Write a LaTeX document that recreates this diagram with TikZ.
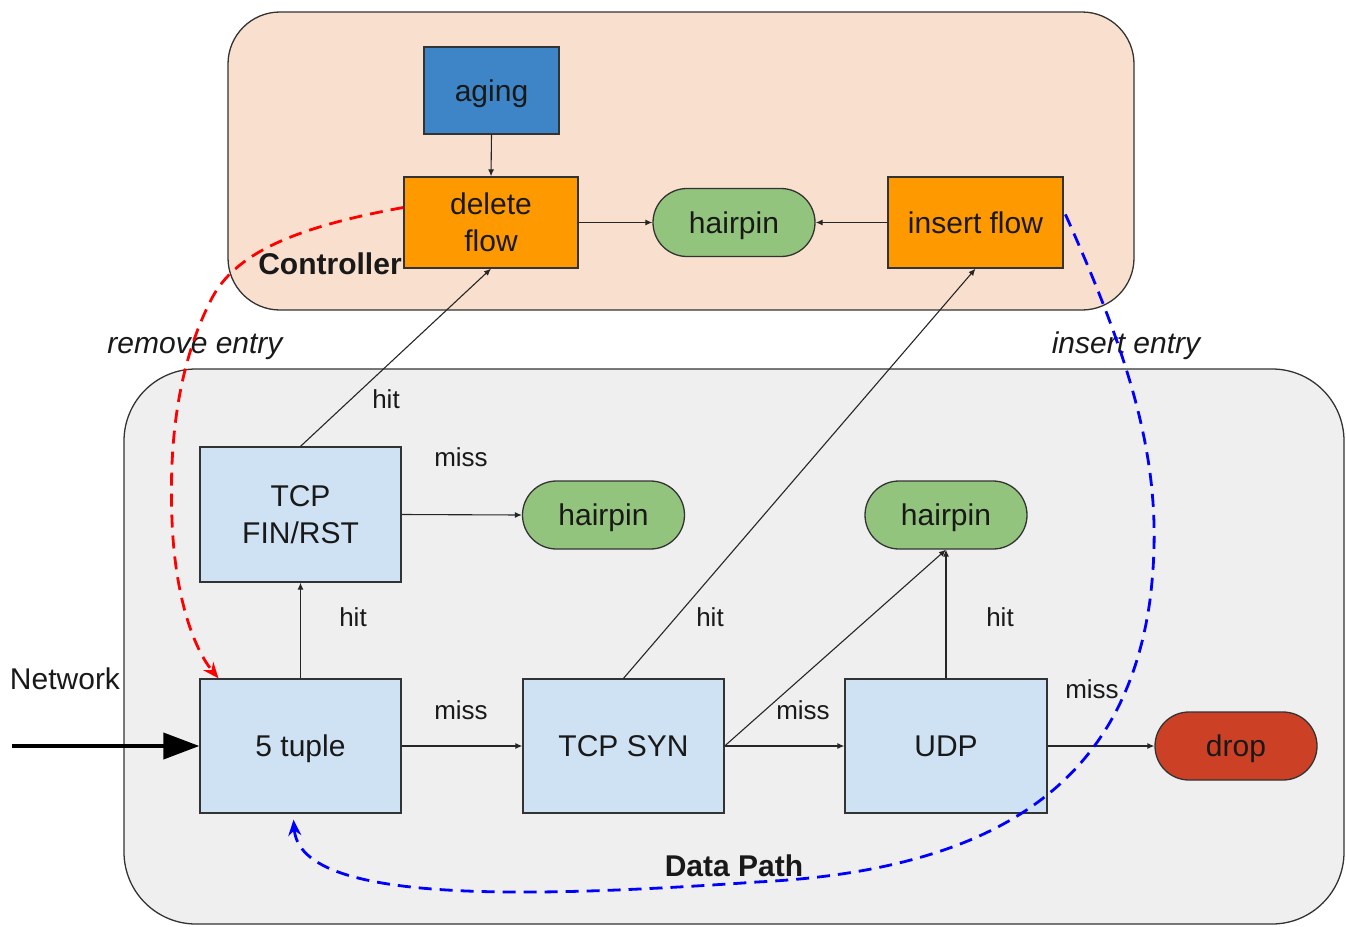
\documentclass[tikz,border=0pt]{standalone}
\usepackage{fontspec}
\setmainfont{Liberation Sans}
\usetikzlibrary{arrows.meta}
\definecolor{ctrlfill}{HTML}{F9E0CE}
\definecolor{dpfill}{HTML}{EFEFEF}
\definecolor{lblue}{HTML}{CFE2F3}
\definecolor{dblue}{HTML}{3D85C6}
\definecolor{orng}{HTML}{FF9900}
\definecolor{grn}{HTML}{93C47D}
\definecolor{redd}{HTML}{CC4125}
\definecolor{edge}{HTML}{333333}
\begin{document}
\begin{tikzpicture}[x=1pt,y=-1pt,
  region/.style={draw=edge,line width=1.3pt},
  bx/.style={draw=edge,line width=1.3pt,inner sep=0pt,align=center,font=\fontsize{30}{37}\selectfont,text=black!90},
  one/.style={text height=21.5pt,text depth=0pt},
  pill/.style={bx,one,rounded corners=34pt,fill=grn,minimum width=162pt,minimum height=68pt},
  conn/.style={line width=1.1pt,draw=black!85,-{Latex[length=7pt,width=6pt]}},
  lbl/.style={font=\fontsize{26}{30}\selectfont,text=black!90,text height=18.6pt,text depth=0pt},
  big/.style={font=\fontsize{30}{34}\selectfont,text=black!90,one},
  dashcurve/.style={line width=2.8pt,dash pattern=on 13pt off 8pt}
]
\useasboundingbox (0,0) rectangle (1346,926);
% regions
\draw[region,fill=ctrlfill,rounded corners=52pt] (228,12) rectangle (1134,310);
\draw[region,fill=dpfill,rounded corners=72pt] (124,369) rectangle (1344,924);
% controller nodes
\node[bx,one,fill=dblue,minimum width=135pt,minimum height=87pt] (aging) at (491.5,90.5) {aging};
\node[bx,fill=orng,minimum width=174pt,minimum height=91pt] (delete) at (491,222.5) {delete\\flow};
\node[pill] (hp1) at (734,222.5) {hairpin};
\node[bx,one,fill=orng,minimum width=175pt,minimum height=91pt] (insert) at (975.5,222.5) {insert flow};
\node[font=\bfseries\fontsize{30}{34}\selectfont,text=black!90,one] (ctl) at (330,264) {Controller};
% data path nodes
\node[bx,fill=lblue,minimum width=201pt,minimum height=135pt] (fin) at (300.5,514.5) {TCP\\FIN/RST};
\node[pill] (hp2) at (603.5,515) {hairpin};
\node[pill] (hp3) at (946,515) {hairpin};
\node[bx,one,fill=lblue,minimum width=201pt,minimum height=134pt] (tuple) at (300.5,746) {5 tuple};
\node[bx,one,fill=lblue,minimum width=201pt,minimum height=134pt] (syn) at (623.5,746) {TCP SYN};
\node[bx,one,fill=lblue,minimum width=202pt,minimum height=134pt] (udp) at (946,746) {UDP};
\node[bx,one,fill=redd,rounded corners=34pt,minimum width=162pt,minimum height=68pt] (drop) at (1236,746) {drop};
\node[font=\bfseries\fontsize{30}{34}\selectfont,text=black!90,one] (dp) at (734,866) {Data Path};
\node[big] (net) at (65,679) {Network};
\node[big,font=\itshape\fontsize{30}{34}\selectfont] (rem) at (195,343) {remove entry};
\node[big,font=\itshape\fontsize{30}{34}\selectfont] (ins) at (1126,343) {insert entry};
\coordinate (netstart) at (12,746);
% connectors
\draw[conn] (aging.south) -- (delete.north);
\draw[conn] (delete.east) -- (hp1.west);
\draw[conn] (insert.west) -- (hp1.east);
\draw[conn] (fin.north) -- (delete.south);
\draw[conn] (fin.east) -- (hp2.west);
\draw[conn] (tuple.north) -- (fin.south);
\draw[conn] (tuple.east) -- (syn.west);
\draw[conn] (syn.north) -- (insert.south);
\draw[conn] (syn.east) -- (udp.west);
\draw[conn] (syn.east) -- (hp3.south);
\draw[conn] (udp.north) -- (hp3.south);
\draw[conn] (udp.east) -- (drop.west);
\draw[line width=4pt,-{Triangle[length=36pt,width=26pt]}] (netstart) -- (tuple.west);
% labels
\node[lbl] at (386,399) {hit};
\node[lbl] at (461,457) {miss};
\node[lbl] at (353,617) {hit};
\node[lbl] at (461,710) {miss};
\node[lbl] at (710,617) {hit};
\node[lbl] at (803,710) {miss};
\node[lbl] at (1000,617) {hit};
\node[lbl] at (1092,689) {miss};
% dashed curves
\draw[dashcurve,red,-{Stealth[length=16pt,width=13pt]}] ([yshift=15pt]delete.west)
  .. controls (290,228) and (235,255) .. (212,298)
  .. controls (185,350) and (168,420) .. (172,520)
  .. controls (175,600) and (195,650) .. ([xshift=-82pt]tuple.north);
\draw[dashcurve,blue,{Stealth[length=16pt,width=13pt]}-] ([xshift=-7pt,yshift=-6pt]tuple.south)
  .. controls (300,900) and (500,900) .. (757,882)
  .. controls (1000,870) and (1125,780) .. (1150,600)
  .. controls (1165,480) and (1140,380) .. ([yshift=12pt]insert.east);
\end{tikzpicture}
\end{document}
